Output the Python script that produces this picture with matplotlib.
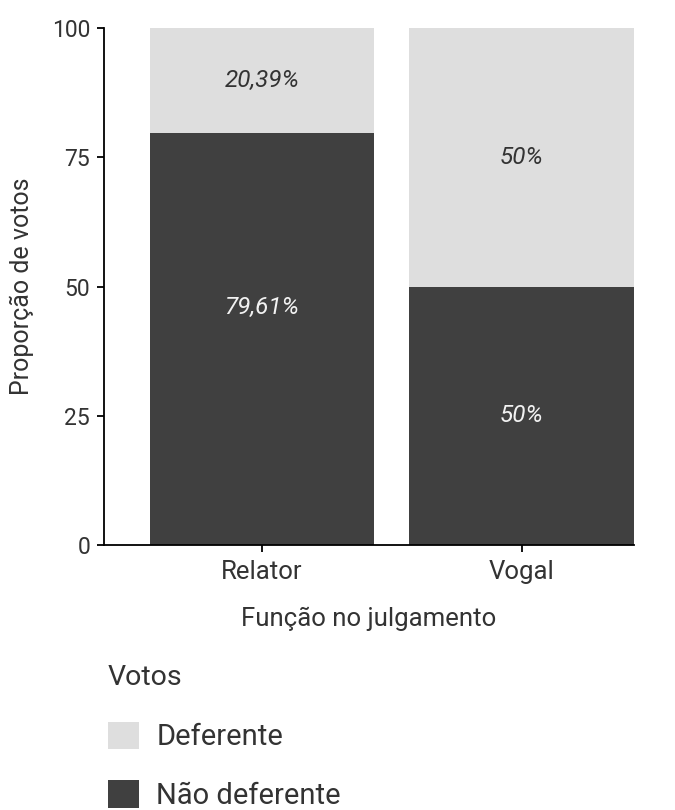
import numpy as np
import matplotlib
matplotlib.use('Agg')
import matplotlib.pyplot as plt
from matplotlib.patches import Patch

plt.rcParams['font.family'] = ['Roboto', 'DejaVu Sans']

# Dados
funcoes = ['Relator', 'Vogal']
nao_deferente = [79.61, 50]
deferente = [20.39, 50]
rotulos_nao = ['79,61%', '50%']
rotulos_def = ['20,39%', '50%']
# posição vertical dos rótulos da parte escura (como no original)
pos_rotulo_nao = [46, 25]

cor_escura = '#404040'
cor_clara = '#dedede'
cor_texto = '#333333'

fig = plt.figure(figsize=(6.75, 8.1), dpi=100)
ax = fig.add_axes([104 / 675, 1 - 545 / 810, 530 / 675, 517 / 810])

x = np.arange(1, len(funcoes) + 1)
largura = 0.865

ax.bar(x, nao_deferente, width=largura, color=cor_escura, zorder=2)
ax.bar(x, deferente, width=largura, bottom=nao_deferente, color=cor_clara, zorder=2)

# Rótulos dentro das barras
for i in range(len(funcoes)):
    ax.text(x[i], pos_rotulo_nao[i], rotulos_nao[i], ha='center', va='center',
            style='italic', fontsize=17.5, color='#f2f2f2')
    ax.text(x[i], nao_deferente[i] + deferente[i] / 2, rotulos_def[i], ha='center',
            va='center', style='italic', fontsize=17.5, color=cor_texto)

ax.set_xlim(1 - 0.608, 2 + 0.4327)
ax.set_ylim(0, 100)
ax.set_xticks(x)
ax.set_xticklabels(funcoes)
ax.set_yticks([0, 25, 50, 75, 100])

for lado in ['top', 'right']:
    ax.spines[lado].set_visible(False)
for lado in ['left', 'bottom']:
    ax.spines[lado].set_linewidth(1.3)
    ax.spines[lado].set_color('black')

ax.tick_params(axis='both', length=5, width=1.3, labelcolor=cor_texto, pad=5)
ax.tick_params(axis='y', labelsize=16.5)
ax.tick_params(axis='x', labelsize=18.5, pad=6)
ax.set_xlabel('Função no julgamento', fontsize=18.5, color=cor_texto, labelpad=16)
ax.set_ylabel('Proporção de votos', fontsize=18, color=cor_texto, labelpad=13)

# Legenda
handles = [Patch(facecolor=cor_clara, label='Deferente'),
           Patch(facecolor=cor_escura, label='Não deferente')]
leg = fig.legend(handles=handles, title='Votos', loc='upper left',
                 bbox_to_anchor=(108 / 675, 1 - 664 / 810), frameon=False,
                 fontsize=21, title_fontsize=20.5, handlelength=1.06, handleheight=1.06,
                 handletextpad=0.6, labelspacing=1.0, borderpad=0, borderaxespad=0)
leg._legend_box.align = 'left'
leg._legend_box.sep = 22
for t in leg.get_texts():
    t.set_color(cor_texto)
leg.get_title().set_color(cor_texto)

plt.savefig('out.png', dpi=100)
plt.close()
